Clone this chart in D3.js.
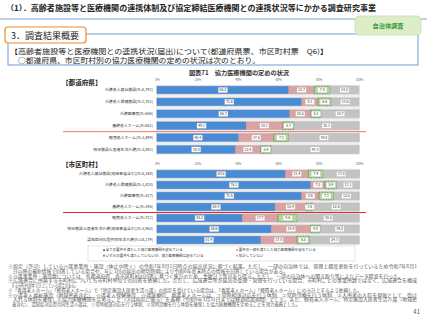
<!DOCTYPE html>
<html>
<head>
<meta charset="utf-8">
<script src="https://cdn.jsdelivr.net/npm/d3@7"></script>
<style>
  body { margin: 0; background: #fff; }
  svg text { font-family: "Noto Sans CJK JP", "Noto Sans", sans-serif; }
</style>
</head>
<body>
<svg id="chart"></svg>
<script>
const seriesNames = ["全ての要件を満たした協力医療機関を定めている", "要件の一部を満たした協力医療機関を定めている",
  "いずれの要件も満たしていないが、協力医療機関は定めている", "集計していない"];

const prefCats = ["介護老人福祉施設(n=5,792)", "介護老人保健施設(n=2,701)", "介護医療院(n=606)",
  "養護老人ホーム(n=651)", "軽費老人ホーム(n=1,499)", "特定施設入居者生活介護(n=3,891)"];
const prefAll = [65.2, 71.6, 65.7, 44.1, 40.4, 38.8];
const prefPart = [12.7, 8.1, 10.5, 18.1, 17.5, 12.4];
const prefNone = [7.8, 6.6, 5.1, 5.7, 7.3, 5.4];
const prefNA = [14.2, 13.6, 18.7, 32.1, 34.8, 43.3];

const muniCats = ["介護老人福祉施設(地域密着含む)(n=5,348)", "介護老人保健施設(n=1,424)", "介護医療院(n=327)",
  "養護老人ホーム(n=195)", "軽費老人ホーム(n=722)", "特定施設入居者生活介護(地域密着含む)(n=3,954)",
  "認知症対応型共同生活介護(n=14,179)"];
const muniAll = [63.5, 76.1, 71.6, 58.4, 42.2, 56.6, 51.4];
const muniPart = [11.4, 7.0, 8.6, 15.4, 17.7, 19.4, 17.8];
const muniNone = [7.4, 5.9, 7.3, 3.6, 9.6, 4.8, 6.5];
const muniNA = [17.8, 11.1, 12.5, 22.6, 30.5, 19.2, 24.3];

const ticks = [0, 20, 40, 60, 80, 100];

const notes = [
  "※指定（許可）している介護事業所・施設（休止中除く）の令和7年8月1日時点の届出状況に基づく結果。ただし、一部の自治体では、管理上都度更新を行っているため令和7年8月1",
  "　日以降の最新情報で回答している場合や、年に1回の届出の締切時期により令和6年度末時点の情報を回答している場合がある。",
  "※介護事業所・施設数については、各都道府県、各市区町村の回答に基づく集計のため、重複計上等があり得る。ただし、一部の自治体への聞き取り等によりデータ精査を行った。",
  "※広域連合に所属する市町村についても市町村単位での回答を依頼した。ただし、広域連合等が届出の受理・管理を行っている場合、市町村ごとの事業所数ではなく、広域連合を構成",
  "　する市町村全体で計上している場合がある。",
  "※「養護老人ホーム」「軽費老人ホーム」で「特定施設入居者生活介護」の指定を受けている場合は、「養護老人ホーム」「軽費老人ホーム」にのみ計上するよう依頼した。",
  "※介護老人福祉施設（地域密着含む）、介護老人保健施設、介護医療院、養護老人ホームは、①常時相談対応を行う体制、②常時診療を行う体制、③入所者の入院を原則として、受け",
  "　入れる体制を確保した協力医療機関を定めること（③は病院に限る）を義務（令和9年3月31日までは経過措置期間）とした。また、軽費老人ホーム、特定施設入居者生活介護（地域密",
  "　着含む）、認知症対応型共同生活介護は、①常時相談対応を行う体制、②常時診療を行う体制を確保した協力医療機関を定めることを努力義務とした。"
];
const noteLen = [409, 280, 395, 409, 70, 354, 409, 409, 292];

const width = 427, height = 320;
const colors = ["#4a8bd6", "#d9a3a3", "#b3d69c", "#c3c3c3"];
const strokes = ["#3b78c2", "#c48d8d", "#4f8a3a", "#a8a8a8"];

const svg = d3.select("#chart").attr("width", width).attr("height", height);

// small text: draw at 10px and scale down, so the browser's minimum font size does not kick in
function tiny(sel, fs) {
  const s = fs / 10;
  sel.each(function () {
    const t = d3.select(this);
    const tx = +t.attr("x") || 0, ty = +t.attr("y") || 0;
    t.attr("x", 0).attr("y", 0).attr("dy", null).attr("font-size", 10)
      .attr("transform", `translate(${tx},${ty}) scale(${s})`);
    if (t.attr("textLength")) t.attr("textLength", +t.attr("textLength") / s);
  });
  return sel;
}

// header
svg.append("text").attr("x", 6).attr("y", 11).attr("font-size", 7.6).attr("font-weight", "bold")
  .attr("fill", "#222").attr("textLength", 370).attr("lengthAdjust", "spacingAndGlyphs")
  .text("（1）．高齢者施設等と医療機関の連携体制及び協定締結医療機関との連携状況等にかかる調査研究事業");
svg.append("line").attr("x1", 0).attr("x2", 427).attr("y1", 19).attr("y2", 19)
  .attr("stroke", "#7ea6d8").attr("stroke-width", 1.2);

svg.append("rect").attr("x", 8).attr("y", 34).attr("width", 410).attr("height", 31)
  .attr("fill", "#fff").attr("stroke", "#6f9bd6").attr("stroke-width", 1);

svg.append("rect").attr("x", 355).attr("y", 16).attr("width", 66).attr("height", 19).attr("rx", 4)
  .attr("fill", "#dcedc8").attr("stroke", "#cfe3b8");
svg.append("text").attr("x", 388).attr("y", 28.2).attr("text-anchor", "middle").attr("font-size", 6.2)
  .attr("font-weight", "bold").attr("fill", "#3d9a3d").text("自治体調査");

svg.append("rect").attr("x", 5).attr("y", 27).attr("width", 81).attr("height", 16).attr("rx", 3)
  .attr("fill", "#fff").attr("stroke", "#ef8a2e").attr("stroke-width", 1.2);
svg.append("text").attr("x", 11).attr("y", 38.5).attr("font-size", 9).attr("fill", "#222").text("3．調査結果概要");

svg.append("text").attr("x", 10).attr("y", 53.6).attr("font-size", 6.8).attr("fill", "#222")
  .attr("textLength", 318).attr("lengthAdjust", "spacingAndGlyphs")
  .text("【高齢者施設等と医療機関との連携状況(届出)について(都道府県票、市区町村票　Q6)】");
svg.append("text").attr("x", 18).attr("y", 63.3).attr("font-size", 7.2).attr("fill", "#222")
  .attr("textLength", 242).attr("lengthAdjust", "spacingAndGlyphs")
  .text("○都道府県、市区町村別の協力医療機関の定めの状況は次のとおり。");

svg.append("text").attr("x", 239).attr("y", 74.5).attr("text-anchor", "middle").attr("font-size", 6.2)
  .attr("font-weight", "bold").attr("fill", "#333").text("図表71　協力医療機関の定めの状況");

const x = d3.scaleLinear().domain([0, 100]).range([157, 359]);
const barH = 7.5;

function section(cats, all, part, none, na, label, labelY, axisY, yRange, lineColor) {
  const y = d3.scalePoint().domain(cats).range(yRange);
  const rows = cats.map((c, i) => ({ cat: c, vals: [all[i], part[i], none[i], na[i]] }));

  svg.append("text").attr("x", 62).attr("y", labelY).attr("font-size", 6.6).attr("font-weight", "bold")
    .attr("fill", "#222").text(label);

  const ax = svg.append("g").attr("transform", `translate(0,${axisY})`)
    .call(d3.axisTop(x).tickValues(ticks).tickSize(0).tickPadding(0).tickFormat(d => d + "%"));
  ax.select(".domain").remove();
  tiny(ax.selectAll("text").attr("fill", "#666"), 3);

  svg.append("rect").attr("x", x(0) - 1).attr("y", yRange[0] - barH / 2 - 1.5)
    .attr("width", x(100) - x(0) + 2).attr("height", yRange[1] - yRange[0] + barH + 3)
    .attr("fill", "#efefef");

  tiny(svg.append("g").selectAll("text").data(cats).join("text")
    .attr("x", 153).attr("y", d => y(d) + 1.4).attr("text-anchor", "end")
    .attr("fill", "#333").text(d => d), 3.9);

  const segs = [];
  rows.forEach(r => {
    let acc = 0;
    r.vals.forEach((v, k) => { segs.push({ cat: r.cat, k: k, x0: acc, v: v }); acc += v; });
  });

  const g = svg.append("g");
  g.selectAll("rect.row").data(cats).join("rect").attr("class", "row")
    .attr("x", x(0) - 0.5).attr("y", d => y(d) - barH / 2 - 0.5)
    .attr("width", x(100) - x(0) + 1).attr("height", barH + 1)
    .attr("fill", "#fff").attr("stroke", "#cfcfcf").attr("stroke-width", 0.6);

  g.selectAll("rect.seg").data(segs).join("rect").attr("class", "seg")
    .attr("x", d => x(d.x0)).attr("y", d => y(d.cat) - barH / 2)
    .attr("width", d => x(d.x0 + d.v) - x(d.x0)).attr("height", barH)
    .attr("fill", d => colors[d.k]).attr("stroke", d => strokes[d.k])
    .attr("stroke-width", d => d.k == 2 ? 0.9 : 0.4)
    .attr("stroke-dasharray", d => d.k == 2 ? "1,0.6" : null);

  const lab = g.selectAll("g.lab").data(segs).join("g").attr("class", "lab")
    .attr("transform", d => `translate(${x(d.x0 + d.v / 2)},${y(d.cat)})`);
  lab.append("rect").attr("x", -4.6).attr("y", -2.6).attr("width", 9.2).attr("height", 5.2)
    .attr("fill", "#fff").attr("stroke", "#bbb").attr("stroke-width", 0.3);
  tiny(lab.append("text").attr("y", 1.2).attr("text-anchor", "middle")
    .attr("fill", "#333").text(d => d.v.toFixed(1)), 3.5);

  const sepY = (y(cats[3]) + y(cats[4])) / 2;
  svg.append("line").attr("x1", 63).attr("x2", 366).attr("y1", sepY).attr("y2", sepY)
    .attr("stroke", lineColor).attr("stroke-width", 1);
}

section(prefCats, prefAll, prefPart, prefNone, prefNA, "【都道府県】", 84.5, 81, [90, 149.5], "#f07575");
section(muniCats, muniAll, muniPart, muniNone, muniNA, "【市区町村】", 166.5, 165, [174, 240], "#e8262a");

// legend
svg.append("rect").attr("x", 88).attr("y", 246).attr("width", 267).attr("height", 15)
  .attr("fill", "#fff").attr("stroke", "#d3d3d3").attr("stroke-width", 0.6);
const lpos = [[103, 251], [236, 251], [103, 256.5], [236, 256.5]];
const leg = svg.append("g").selectAll("g").data(seriesNames).join("g")
  .attr("transform", (d, i) => `translate(${lpos[i][0]},${lpos[i][1]})`);
leg.append("rect").attr("x", 0).attr("y", -1.9).attr("width", 2).attr("height", 2)
  .attr("fill", (d, i) => i == 2 ? "#70ad47" : colors[i]);
tiny(leg.append("text").attr("x", 2.8).attr("y", 0.2).attr("fill", "#333").text(d => d), 3.5);

// notes
tiny(svg.append("g").selectAll("text").data(notes).join("text")
  .attr("x", 8).attr("y", (d, i) => 268 + i * 4.75).attr("fill", "#555")
  .attr("textLength", (d, i) => noteLen[i])
  .attr("lengthAdjust", "spacingAndGlyphs").text(d => d), 4.2);

svg.append("text").attr("x", 420).attr("y", 314).attr("text-anchor", "end").attr("font-size", 6)
  .attr("fill", "#555").text("41");
</script>
</body>
</html>
